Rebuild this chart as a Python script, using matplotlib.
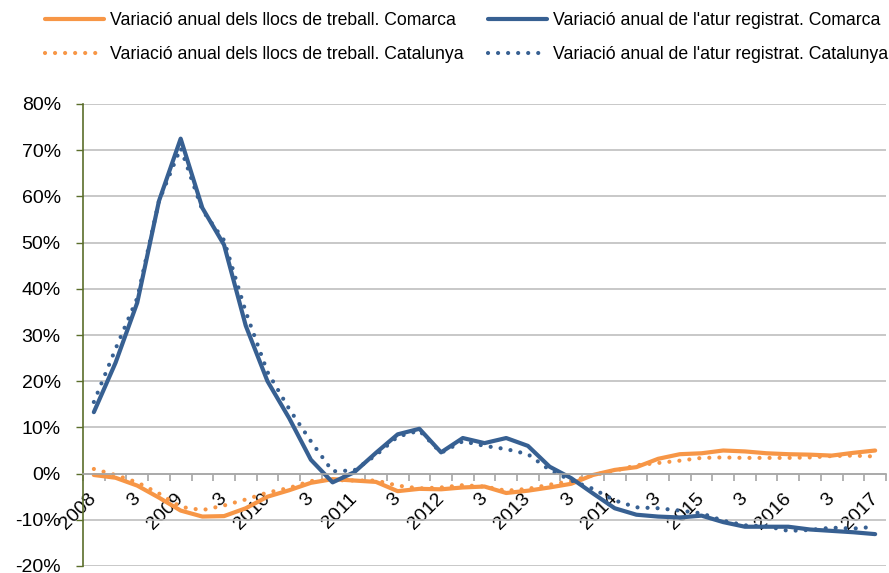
import matplotlib
matplotlib.use('Agg')
import matplotlib.pyplot as plt
from matplotlib.ticker import FuncFormatter

plt.rcParams['font.family'] = ['Liberation Sans', 'DejaVu Sans']

## Dades (variació anual, %), trimestres 2008T1 - 2017T1
etiquetes = ['2008', '', '3', '', '2009', '', '3', '', '2010', '', '3', '', '2011', '', '3', '',
             '2012', '', '3', '', '2013', '', '3', '', '2014', '', '3', '', '2015', '', '3', '',
             '2016', '', '3', '', '2017']

llocs_comarca = [-0.3, -0.9, -2.6, -5.2, -8.0, -9.3, -9.2, -7.5, -5.0, -3.6, -2.0, -1.2, -1.5,
                 -1.8, -3.8, -3.3, -3.4, -3.0, -2.8, -4.2, -3.7, -3.0, -2.2, -0.3, 0.8, 1.4,
                 3.2, 4.2, 4.4, 5.0, 4.8, 4.4, 4.2, 4.1, 3.9, 4.5, 5.0]
llocs_catalunya = [1.0, -0.3, -1.9, -4.3, -7.2, -7.9, -6.9, -5.6, -4.1, -3.1, -1.6, -1.4, -1.5,
                   -1.5, -2.6, -3.2, -3.0, -2.5, -2.8, -3.7, -3.3, -2.4, -1.6, -0.3, 0.6, 1.8,
                   2.3, 2.8, 3.4, 3.5, 3.4, 3.4, 3.4, 3.5, 3.8, 3.9, 3.7]
atur_comarca = [13.3, 24.0, 37.0, 59.0, 72.5, 57.5, 49.5, 32.0, 20.0, 12.0, 3.0, -1.9, 0.3,
                4.5, 8.5, 9.7, 4.6, 7.7, 6.6, 7.7, 6.0, 1.5, -1.0, -4.3, -7.5, -8.9, -9.3,
                -9.5, -9.1, -10.5, -11.5, -11.5, -11.5, -12.1, -12.4, -12.7, -13.1]
atur_catalunya = [15.5, 27.0, 38.0, 59.0, 70.5, 57.0, 50.5, 35.0, 22.0, 14.0, 7.0, 0.5, 0.7,
                  4.0, 8.0, 9.3, 4.5, 7.0, 6.0, 5.3, 4.2, 0.8, -1.5, -3.3, -5.8, -7.3, -7.5,
                  -8.0, -8.6, -10.2, -11.2, -11.4, -12.4, -12.2, -11.7, -11.9, -11.5]

taronja = '#F79646'
blau = '#376092'
oliva = '#5B6E2B'
gris = '#BFBFBF'

x = list(range(len(etiquetes)))

fig = plt.figure(figsize=(8.89, 5.73), dpi=100)
ax = fig.add_axes([83/889, 7/573, 803/889, 462/573])

punts = (0, (0.01, 2.4))
l1, = ax.plot(x, llocs_comarca, color=taronja, lw=3.0, solid_joinstyle='round',
              solid_capstyle='round', label='Variació anual dels llocs de treball. Comarca')
l2, = ax.plot(x, llocs_catalunya, color=taronja, lw=3.0, linestyle=punts, dash_capstyle='round',
              label='Variació anual dels llocs de treball. Catalunya')
l3, = ax.plot(x, atur_comarca, color=blau, lw=3.0, solid_joinstyle='round',
              solid_capstyle='round', label="Variació anual de l'atur registrat. Comarca")
l4, = ax.plot(x, atur_catalunya, color=blau, lw=3.0, linestyle=punts, dash_capstyle='round',
              label="Variació anual de l'atur registrat. Catalunya")

ax.set_xlim(-0.5, len(etiquetes) - 0.5)
ax.set_ylim(-20, 80)

# eix Y
ax.set_yticks(range(-20, 81, 10))
ax.yaxis.set_major_formatter(FuncFormatter(lambda v, p: '%d%%' % v))
ax.tick_params(axis='y', direction='out', length=5, width=1, color=oliva, labelsize=14,
               pad=11)
ax.spines['left'].set_color(oliva)
ax.spines['left'].set_linewidth(1.2)
ax.yaxis.grid(True, color=gris, lw=1.2)
ax.set_axisbelow(True)

# eix X sobre el 0%
ax.spines['bottom'].set_position(('data', 0))
ax.spines['bottom'].set_color('#A6A6A6')
ax.spines['bottom'].set_linewidth(1.2)
ax.spines['top'].set_visible(False)
ax.spines['right'].set_visible(False)
ax.set_xticks(x)
ax.set_xticklabels(etiquetes, rotation=45, ha='right', va='center', rotation_mode='anchor')
ax.set_xticks([i - 0.5 for i in range(len(etiquetes) + 1)], minor=True)
ax.tick_params(axis='x', which='major', length=0, labelsize=14, pad=16)
ax.tick_params(axis='x', which='minor', direction='out', length=5, width=1.2, color='#A6A6A6')

fig.legend(handles=[l1, l2, l3, l4], ncol=2, loc='upper left', bbox_to_anchor=(45/889, 0.979),
           frameon=False, fontsize=12.7, handlelength=3.35, handletextpad=0.34,
           columnspacing=1.4, labelspacing=0.95, borderpad=0, borderaxespad=0)

plt.savefig('out.png', dpi=100)
